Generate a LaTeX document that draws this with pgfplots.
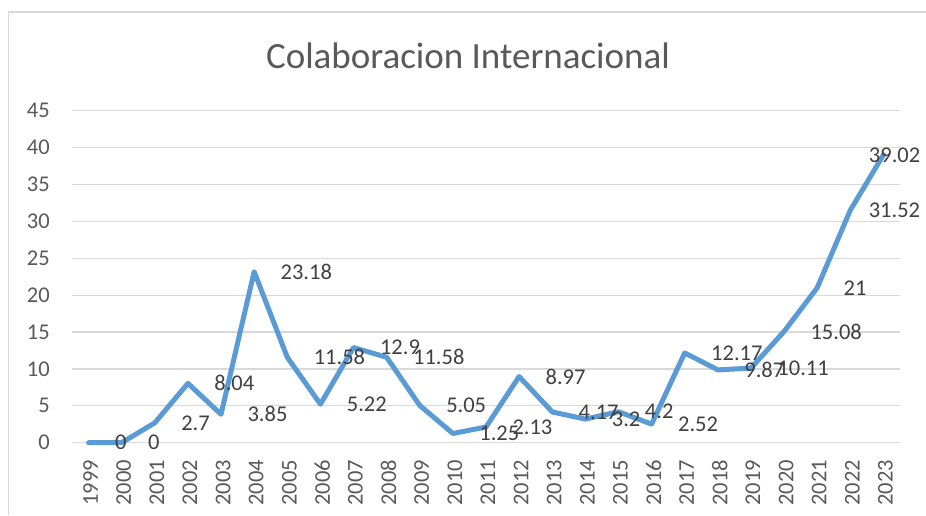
\documentclass[border=0pt]{standalone}
\usepackage{pgfplots}
\usepackage{pgfplotstable}
\pgfplotsset{compat=1.18}
\usepackage{fontspec}
\setmainfont{Carlito}
\definecolor{linecol}{HTML}{5B9BD5}
\definecolor{gridcol}{HTML}{D9D9D9}
\definecolor{tickcol}{HTML}{595959}
\definecolor{lblcol}{HTML}{404040}

\pgfplotstableread{
x y lbl dx
0 0 0 24
1 0 0 24
2 2.7 2.7 24
3 8.04 8.04 24
4 3.85 3.85 24
5 23.18 23.18 24
6 11.58 11.58 24
7 5.22 5.22 24
8 12.9 12.9 24
9 11.58 11.58 24
10 5.05 5.05 24
11 1.25 1.25 24
12 2.13 2.13 24
13 8.97 8.97 24
14 4.17 4.17 24
15 3.2 3.2 24
16 4.2 4.2 24
17 2.52 2.52 24
18 12.17 12.17 24
19 9.87 9.87 24
20 10.11 10.11 24
21 15.08 15.08 24
22 21 21 24
23 31.52 31.52 16
24 39.02 39.02 -17
}\datatable

\begin{document}
\begin{tikzpicture}[x=1pt,y=1pt]
\useasboundingbox (0,0) rectangle (926,-515);
\draw[gridcol, line width=1.3pt] (8.5,-515) -- (8.5,-12) -- (926,-12);
\node[anchor=base, text=tickcol, font=\fontsize{37}{44}\selectfont, inner sep=0pt] at (468,-68) {Colaboracion Internacional};
\begin{axis}[
  at={(72pt,-442.7pt)}, anchor=south west,
  scale only axis, width=828pt, height=332pt,
  xmin=-0.5, xmax=24.5, ymin=0, ymax=45,
  axis line style={draw=none},
  ytick={0,5,...,45},
  xtick={0,...,24},
  xticklabels={1999,2000,2001,2002,2003,2004,2005,2006,2007,2008,2009,2010,2011,2012,2013,2014,2015,2016,2017,2018,2019,2020,2021,2022,2023},
  major tick length=0pt,
  ymajorgrids,
  grid style={gridcol, line width=1.3pt},
  /pgf/number format/assume math mode=true,
  ticklabel style={font=\fontsize{22.5}{27}\selectfont, text=tickcol, inner sep=0pt},
  yticklabel style={anchor=east, xshift=-22pt},
  xticklabel style={rotate=90, anchor=east, xshift=-17pt, yshift=-2pt},
  clip=false,
]
\addplot[linecol, line width=5pt, line cap=round, line join=round,
  nodes near coords,
  point meta=explicit symbolic,
  visualization depends on={\thisrow{dx} \as \dx},
  every node near coord/.append style={anchor=west, inner sep=0pt, xshift=\dx pt, yshift=0pt, text=lblcol, font=\fontsize{22.5}{27}\selectfont},
] table[x=x, y=y, meta=lbl] {\datatable};
\end{axis}
\end{tikzpicture}
\end{document}
